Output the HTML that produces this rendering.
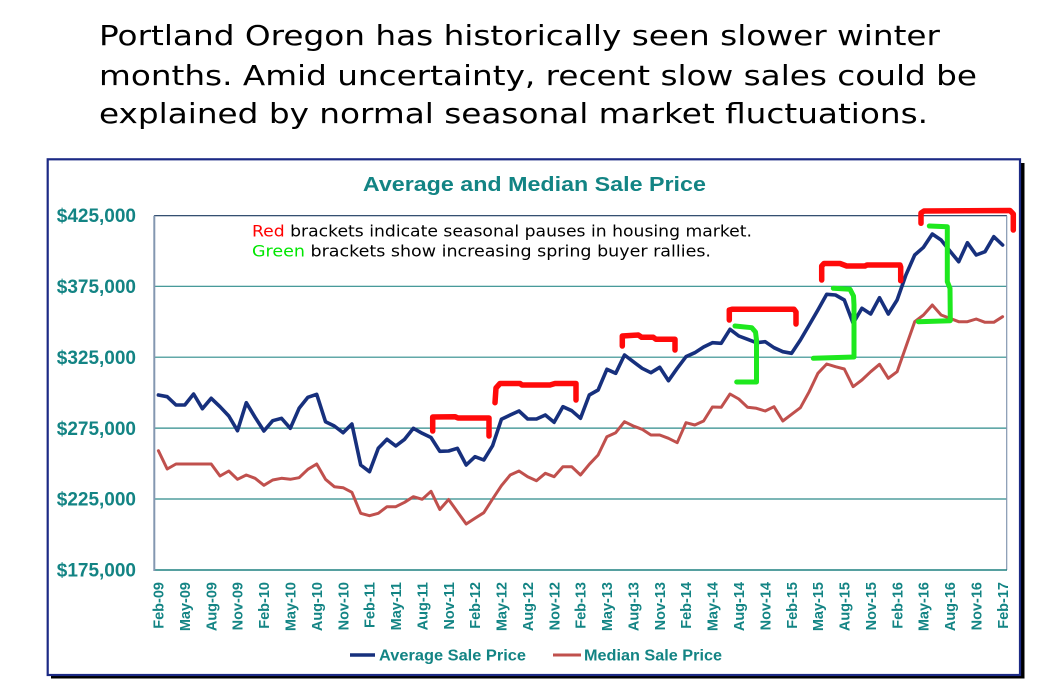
<!DOCTYPE html>
<html><head><meta charset="utf-8"><style>
html,body{margin:0;padding:0;background:#fff;}
svg{display:block;}
</style></head><body>
<svg width="1041" height="694" viewBox="0 0 1041 694" xmlns="http://www.w3.org/2000/svg">
<rect x="0" y="0" width="1041" height="694" fill="#fff"/>
<!-- headline -->
<g font-family="'DejaVu Sans', 'Liberation Sans', sans-serif" font-size="27.5" fill="#000">
<text x="99" y="45" textLength="841" lengthAdjust="spacingAndGlyphs">Portland Oregon has historically seen slower winter</text>
<text x="99" y="85" textLength="878" lengthAdjust="spacingAndGlyphs">months. Amid uncertainty, recent slow sales could be</text>
<text x="99" y="123" textLength="829" lengthAdjust="spacingAndGlyphs">explained by normal seasonal market fluctuations.</text>
</g>
<!-- frame -->
<rect x="51" y="163" width="973.5" height="515.5" fill="#000"/>
<rect x="47.7" y="159.3" width="972.3" height="515.7" fill="#fff" stroke="#1c2a85" stroke-width="2.2"/>
<!-- chart title -->
<text x="534.4" y="191" text-anchor="middle" font-family="'Liberation Sans', Arial, sans-serif" font-weight="bold" font-size="20" fill="#138484" textLength="343" lengthAdjust="spacingAndGlyphs">Average and Median Sale Price</text>
<!-- gridlines -->
<g stroke="#2e8b8b" stroke-width="1.2">
<line x1="154" y1="286.3" x2="1007" y2="286.3"/>
<line x1="154" y1="357.2" x2="1007" y2="357.2"/>
<line x1="154" y1="428.1" x2="1007" y2="428.1"/>
<line x1="154" y1="499" x2="1007" y2="499"/>
</g>
<line x1="154" y1="215.7" x2="1007" y2="215.7" stroke="#17365d" stroke-width="1.2"/>
<line x1="1006.7" y1="215.7" x2="1006.7" y2="570" stroke="#8497b0" stroke-width="1.2"/>
<line x1="154" y1="570" x2="1007" y2="570" stroke="#1f8080" stroke-width="1.6"/>
<line x1="154.3" y1="215.7" x2="154.3" y2="571" stroke="#8497b0" stroke-width="2"/>
<!-- y labels -->
<g font-family="'Liberation Sans', Arial, sans-serif" font-weight="bold" font-size="19" fill="#138484" text-anchor="end">
<text x="136" y="222.2">$425,000</text>
<text x="136" y="293">$375,000</text>
<text x="136" y="364">$325,000</text>
<text x="136" y="434.8">$275,000</text>
<text x="136" y="505.7">$225,000</text>
<text x="136" y="576.5">$175,000</text>
</g>
<!-- x labels -->
<g font-family="'Liberation Sans', Arial, sans-serif" font-weight="bold" font-size="14.5" fill="#138484" text-anchor="end">
<text transform="translate(158.4,582) rotate(-90)" dy="0.36em">Feb-09</text>
<text transform="translate(184.8,582) rotate(-90)" dy="0.36em">May-09</text>
<text transform="translate(211.2,582) rotate(-90)" dy="0.36em">Aug-09</text>
<text transform="translate(237.5,582) rotate(-90)" dy="0.36em">Nov-09</text>
<text transform="translate(263.9,582) rotate(-90)" dy="0.36em">Feb-10</text>
<text transform="translate(290.3,582) rotate(-90)" dy="0.36em">May-10</text>
<text transform="translate(316.7,582) rotate(-90)" dy="0.36em">Aug-10</text>
<text transform="translate(343.1,582) rotate(-90)" dy="0.36em">Nov-10</text>
<text transform="translate(369.5,582) rotate(-90)" dy="0.36em">Feb-11</text>
<text transform="translate(395.8,582) rotate(-90)" dy="0.36em">May-11</text>
<text transform="translate(422.2,582) rotate(-90)" dy="0.36em">Aug-11</text>
<text transform="translate(448.6,582) rotate(-90)" dy="0.36em">Nov-11</text>
<text transform="translate(475.0,582) rotate(-90)" dy="0.36em">Feb-12</text>
<text transform="translate(501.4,582) rotate(-90)" dy="0.36em">May-12</text>
<text transform="translate(527.7,582) rotate(-90)" dy="0.36em">Aug-12</text>
<text transform="translate(554.1,582) rotate(-90)" dy="0.36em">Nov-12</text>
<text transform="translate(580.5,582) rotate(-90)" dy="0.36em">Feb-13</text>
<text transform="translate(606.9,582) rotate(-90)" dy="0.36em">May-13</text>
<text transform="translate(633.3,582) rotate(-90)" dy="0.36em">Aug-13</text>
<text transform="translate(659.7,582) rotate(-90)" dy="0.36em">Nov-13</text>
<text transform="translate(686.0,582) rotate(-90)" dy="0.36em">Feb-14</text>
<text transform="translate(712.4,582) rotate(-90)" dy="0.36em">May-14</text>
<text transform="translate(738.8,582) rotate(-90)" dy="0.36em">Aug-14</text>
<text transform="translate(765.2,582) rotate(-90)" dy="0.36em">Nov-14</text>
<text transform="translate(791.6,582) rotate(-90)" dy="0.36em">Feb-15</text>
<text transform="translate(817.9,582) rotate(-90)" dy="0.36em">May-15</text>
<text transform="translate(844.3,582) rotate(-90)" dy="0.36em">Aug-15</text>
<text transform="translate(870.7,582) rotate(-90)" dy="0.36em">Nov-15</text>
<text transform="translate(897.1,582) rotate(-90)" dy="0.36em">Feb-16</text>
<text transform="translate(923.5,582) rotate(-90)" dy="0.36em">May-16</text>
<text transform="translate(949.9,582) rotate(-90)" dy="0.36em">Aug-16</text>
<text transform="translate(976.2,582) rotate(-90)" dy="0.36em">Nov-16</text>
<text transform="translate(1002.6,582) rotate(-90)" dy="0.36em">Feb-17</text>
</g>
<!-- median series -->
<polyline fill="none" stroke="#c0504d" stroke-width="3" stroke-linejoin="round" stroke-linecap="round" points="158.4,450.7 167.2,469 176.0,464 184.8,464 193.6,464 202.4,464 211.2,464 220.0,476 228.8,471 237.5,479.3 246.3,475 255.1,478.3 263.9,485.3 272.7,480 281.5,478.3 290.3,479.3 299.1,477.7 307.9,469.3 316.7,464 325.5,479.3 334.3,486.7 343.1,487.7 351.9,492.3 360.7,513.3 369.5,515.7 378.3,513.3 387.0,506.7 395.8,506.7 404.6,502.3 413.4,496.7 422.2,499.3 431.0,491.3 439.8,509.5 448.6,499.5 457.4,511.7 466.2,524 475.0,518.3 483.8,512.7 492.6,499 501.4,485.7 510.2,475 519.0,471 527.7,476.7 536.5,480.7 545.3,473.3 554.1,476.7 562.9,466.7 571.7,466.7 580.5,475 589.3,464.3 598.1,455 606.9,436.7 615.7,432.7 624.5,421.7 633.3,426 642.1,429.3 650.9,435 659.7,435 668.5,438.3 677.2,442.7 686.0,422.7 694.8,425 703.6,421 712.4,407 721.2,407.3 730.0,394 738.8,399 747.6,407.3 756.4,408.3 765.2,411 774.0,406.7 782.8,421 791.6,414.3 800.4,407.7 809.2,391.7 817.9,373.3 826.7,364 835.5,366.7 844.3,369 853.1,386.7 861.9,380 870.7,371.7 879.5,364.3 888.3,378.3 897.1,371.7 905.9,346.7 914.7,321.7 923.5,315 932.3,305 941.1,315 949.9,318.3 958.7,321.7 967.4,321.7 976.2,319 985.0,322.3 993.8,322.3 1002.6,316.7"/>
<!-- average series -->
<polyline fill="none" stroke="#17307d" stroke-width="3.6" stroke-linejoin="round" stroke-linecap="round" points="158.4,395 167.2,396.7 176.0,405 184.8,405 193.6,394 202.4,408.7 211.2,398.3 220.0,406.7 228.8,416 237.5,430.7 246.3,402.7 255.1,417.3 263.9,431 272.7,420.7 281.5,418.3 290.3,428.3 299.1,408.3 307.9,397.3 316.7,394.3 325.5,421.7 334.3,426 343.1,432.7 351.9,424 360.7,465 369.5,471.7 378.3,448.3 387.0,439.3 395.8,446 404.6,439.3 413.4,428.3 422.2,433.3 431.0,437.5 439.8,451.3 448.6,451 457.4,448.3 466.2,465 475.0,456.7 483.8,460 492.6,445.7 501.4,419.3 510.2,415 519.0,411 527.7,419 536.5,419 545.3,415 554.1,422.3 562.9,406.7 571.7,410.7 580.5,418.3 589.3,395 598.1,390 606.9,369.3 615.7,373.3 624.5,355 633.3,361.7 642.1,368.3 650.9,372.7 659.7,367.3 668.5,380.7 677.2,368.3 686.0,356.7 694.8,352.7 703.6,347 712.4,342.7 721.2,343.3 730.0,329.3 738.8,336 747.6,339.3 756.4,342.7 765.2,341.7 774.0,347.7 782.8,351.7 791.6,353.3 800.4,340 809.2,325 817.9,310 826.7,294.3 835.5,295 844.3,300 853.1,323.3 861.9,308.3 870.7,314 879.5,297.7 888.3,314 897.1,300 905.9,275 914.7,255 923.5,247.3 932.3,234 941.1,240 949.9,251 958.7,261.7 967.4,242.7 976.2,255 985.0,251.7 993.8,236.7 1002.6,245"/>
<!-- red brackets -->
<g fill="none" stroke="#ff0a0a" stroke-width="5.5" stroke-linejoin="round" stroke-linecap="round">
<polyline points="432.7,431 432.7,417 455,416.7 458,418 489,418 489,436"/>
<polyline points="495,402.7 496,388 500,383.5 520,383.5 522,385 550,385 555,383.5 576,383.5 576,400"/>
<polyline points="622.3,346 622.3,336 638.3,335 641.7,337.3 653.3,337.3 656,339.3 675,339.3 675,350"/>
<polyline points="729.3,320 729.3,310 732,309.3 794,309.3 796,312 796,324"/>
<polyline points="821.7,280 821.7,266 824,263.5 840,263.5 846.7,266 865,266 867,265 900,265 900.7,267 900.7,280.7"/>
<polyline points="921,223.3 921,213 924,211 1010,210.5 1013.3,214 1013.3,230"/>
</g>
<!-- green brackets -->
<g fill="none" stroke="#1ee81e" stroke-width="5" stroke-linejoin="round" stroke-linecap="round">
<polyline points="735,326 751.7,327.7 755.5,332 756.5,340 756.5,382 736.7,382"/>
<polyline points="833.3,288.3 850,289.3 853.5,296 854,305 854,357 813.3,358.3"/>
<polyline points="929.3,226 947.3,226.7 947.3,281.7 950,288.3 950.3,320.7 918.3,321.7"/>
</g>
<!-- annotation -->
<g font-family="'DejaVu Sans', 'Liberation Sans', sans-serif" font-size="16">
<text x="252" y="236.5" textLength="500" lengthAdjust="spacingAndGlyphs"><tspan fill="#ff0000">Red</tspan><tspan fill="#000"> brackets indicate seasonal pauses in housing market.</tspan></text>
<text x="252" y="256.5" textLength="459" lengthAdjust="spacingAndGlyphs"><tspan fill="#00e600">Green</tspan><tspan fill="#000"> brackets show increasing spring buyer rallies.</tspan></text>
</g>
<!-- legend -->
<line x1="350" y1="655" x2="375" y2="655" stroke="#17307d" stroke-width="3.6"/>
<line x1="553" y1="655" x2="581" y2="655" stroke="#c0504d" stroke-width="3"/>
<g font-family="'Liberation Sans', Arial, sans-serif" font-weight="bold" font-size="16" fill="#138484">
<text x="379" y="660.5" textLength="147" lengthAdjust="spacingAndGlyphs">Average Sale Price</text>
<text x="584" y="660.5" textLength="138" lengthAdjust="spacingAndGlyphs">Median Sale Price</text>
</g>
</svg>
</body></html>
